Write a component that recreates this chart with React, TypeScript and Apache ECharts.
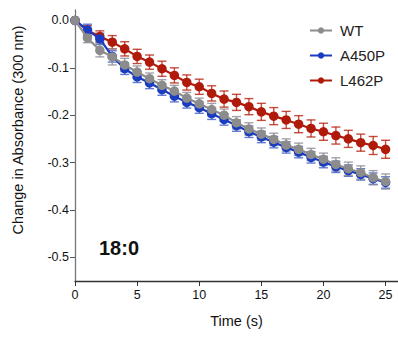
import React, { useEffect, useRef } from "react";
import * as echarts from "echarts";

const time = [0, 1, 2, 3, 4, 5, 6, 7, 8, 9, 10, 11, 12, 13, 14, 15, 16, 17, 18, 19, 20, 21, 22, 23, 24, 25];
const wt = [0, -0.037, -0.063, -0.077, -0.094, -0.109, -0.123, -0.137, -0.149, -0.164, -0.176, -0.188, -0.2, -0.216, -0.229, -0.24, -0.251, -0.263, -0.272, -0.283, -0.293, -0.304, -0.313, -0.321, -0.332, -0.34];
const wtErr = [0, 0.01, 0.014, 0.017, 0.014, 0.013, 0.012, 0.012, 0.012, 0.012, 0.012, 0.013, 0.013, 0.013, 0.013, 0.013, 0.013, 0.013, 0.013, 0.013, 0.013, 0.014, 0.014, 0.014, 0.015, 0.016];
const a450p = [0, -0.02, -0.039, -0.076, -0.102, -0.119, -0.132, -0.146, -0.16, -0.173, -0.184, -0.197, -0.209, -0.222, -0.235, -0.246, -0.257, -0.268, -0.278, -0.289, -0.299, -0.309, -0.317, -0.325, -0.334, -0.342];
const a450pErr = [0, 0.012, 0.012, 0.012, 0.012, 0.012, 0.012, 0.012, 0.012, 0.012, 0.012, 0.012, 0.012, 0.012, 0.012, 0.012, 0.012, 0.012, 0.012, 0.012, 0.012, 0.012, 0.012, 0.012, 0.012, 0.012];
const l462p = [0, -0.021, -0.034, -0.046, -0.06, -0.076, -0.088, -0.102, -0.116, -0.131, -0.14, -0.154, -0.166, -0.173, -0.182, -0.193, -0.202, -0.21, -0.219, -0.228, -0.235, -0.243, -0.25, -0.258, -0.264, -0.272];
const l462pErr = [0, 0.01, 0.012, 0.014, 0.015, 0.015, 0.015, 0.016, 0.016, 0.016, 0.016, 0.016, 0.017, 0.017, 0.017, 0.018, 0.018, 0.018, 0.018, 0.018, 0.018, 0.018, 0.018, 0.018, 0.019, 0.019];
const yTickValues = [0, -0.1, -0.2, -0.3, -0.4, -0.5];
const yTickLabels = ["0.0", "-0.1", "-0.2", "-0.3", "-0.4", "-0.5"];
const xTickValues = [0, 5, 10, 15, 20, 25];

const FONT = "Liberation Sans, Arial, sans-serif";

function errSeries(name: string, vals: number[], errs: number[], color: string) {
  const data = time.map((t, i) => [t, vals[i] - errs[i], vals[i] + errs[i]]);
  return {
    type: "custom",
    name: name + "_err",
    data,
    silent: true,
    z: 1,
    renderItem: (params: any, api: any) => {
      const x = api.value(0);
      const lo = api.coord([x, api.value(1)]);
      const hi = api.coord([x, api.value(2)]);
      const hw = 4.5;
      const style = { stroke: color, lineWidth: 1.4, fill: "none" };
      return {
        type: "group",
        children: [
          { type: "line", shape: { x1: lo[0], y1: lo[1], x2: hi[0], y2: hi[1] }, style },
          { type: "line", shape: { x1: lo[0] - hw, y1: lo[1], x2: lo[0] + hw, y2: lo[1] }, style },
          { type: "line", shape: { x1: hi[0] - hw, y1: hi[1], x2: hi[0] + hw, y2: hi[1] }, style },
        ],
      };
    },
  };
}

function lineSeries(name: string, vals: number[], color: string, z: number) {
  return {
    type: "line",
    name,
    data: time.map((t, i) => [t, vals[i]]),
    symbol: "circle",
    symbolSize: 9.5,
    z,
    lineStyle: { color, width: 2.2 },
    itemStyle: { color },
  };
}

export default function App() {
  const ref = useRef<HTMLDivElement>(null);
  useEffect(() => {
    const chart = echarts.init(ref.current!, undefined, { renderer: "svg" });
    const gray = "#8c8c8c";
    const blue = "#1a3cc0";
    const red = "#b01a0a";
    chart.setOption({
      animation: false,
      grid: { left: 75, top: 10, right: 0, bottom: 56, containLabel: false },
      legend: {
        data: ["WT", "A450P", "L462P"],
        orient: "vertical",
        left: 304,
        top: 18,
        itemGap: 10,
        itemWidth: 22,
        itemHeight: 8,
        textStyle: { fontFamily: FONT, fontSize: 15, color: "#222", padding: [0, 0, 0, 3] },
      },
      xAxis: {
        type: "value",
        min: 0,
        max: 26,
        name: "Time (s)",
        nameLocation: "middle",
        nameGap: 32,
        nameTextStyle: { fontFamily: FONT, fontSize: 14.5, color: "#111" },
        axisLine: { onZero: false, lineStyle: { color: "#333", width: 1.3 } },
        axisTick: { length: 5, lineStyle: { color: "#333" }, customValues: xTickValues },
        axisLabel: { fontFamily: FONT, fontSize: 12.5, color: "#111", margin: 7, customValues: xTickValues },
        splitLine: { show: false },
      },
      yAxis: {
        type: "value",
        min: -0.55,
        max: 0.022,
        axisLine: { onZero: false, lineStyle: { color: "#777", width: 1.3 } },
        axisTick: { length: 5, lineStyle: { color: "#555" }, customValues: yTickValues },
        axisLabel: {
          fontFamily: FONT,
          fontSize: 12.5,
          color: "#111",
          margin: 6,
          customValues: yTickValues,
          formatter: (v: number) => {
            const idx = yTickValues.findIndex((t) => Math.abs(t - v) < 1e-6);
            return idx >= 0 ? yTickLabels[idx] : "";
          },
        },
        splitLine: { show: false },
      },
      graphic: [
        {
          type: "text",
          x: 18,
          y: 130,
          rotation: Math.PI / 2,
          style: {
            text: "Change in Absorbance (300 nm)",
            font: "14.5px Liberation Sans, Arial, sans-serif",
            fill: "#111",
            align: "center",
            verticalAlign: "middle",
          },
        },
        {
          type: "text",
          x: 99,
          y: 248,
          style: {
            text: "18:0",
            font: "bold 20px Liberation Sans, Arial, sans-serif",
            fill: "#111",
            align: "left",
            verticalAlign: "middle",
          },
        },
      ],
      series: [
        errSeries("L462P", l462p, l462pErr, "rgba(181,32,16,0.8)"),
        lineSeries("L462P", l462p, red, 2),
        errSeries("A450P", a450p, a450pErr, "rgba(60,90,200,0.8)"),
        lineSeries("A450P", a450p, blue, 3),
        errSeries("WT", wt, wtErr, "rgba(140,140,150,0.8)"),
        lineSeries("WT", wt, gray, 4),
      ],
    });
    return () => chart.dispose();
  }, []);
  return <div ref={ref} style={{ width: 398, height: 337, position: "absolute", left: 0, top: 0 }} />;
}
